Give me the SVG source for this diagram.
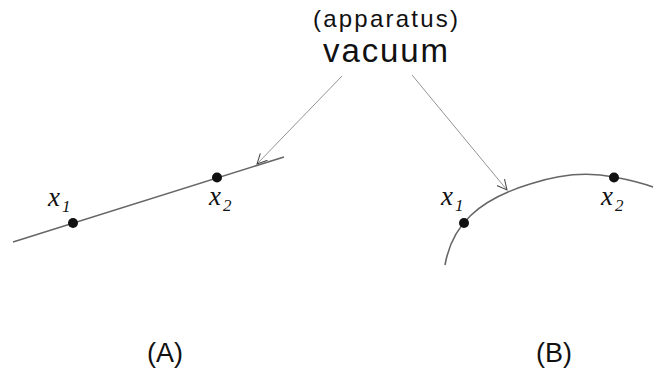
<svg xmlns="http://www.w3.org/2000/svg" width="657" height="371" viewBox="0 0 657 371">
<style>
.lbl{font-family:"Liberation Sans",Arial,sans-serif;fill:#111}
.var{font-family:"Liberation Serif","Times New Roman",serif;font-style:italic;fill:#111}
.curve{fill:none;stroke:#666;stroke-width:1.6}
.ptr{fill:none;stroke:#777;stroke-width:0.8}
.dot{fill:#111}
</style>
<defs>
<marker id="ah" markerWidth="12" markerHeight="12" refX="10" refY="5" orient="auto" markerUnits="userSpaceOnUse" viewBox="0 0 12 10">
<path d="M0,0 L10,5 L0,10" fill="none" stroke="#444" stroke-width="1"/>
</marker>
</defs>
<rect width="657" height="371" fill="#fff"/>
<g id="title">
<text class="lbl" x="313" y="27" font-size="24" textLength="145" lengthAdjust="spacing">(apparatus)</text>
<text class="lbl" x="323" y="62" font-size="33" textLength="125" lengthAdjust="spacing">vacuum</text>
</g>
<g id="panelA">
<path class="curve" d="M13,242 L284,157"/>
<circle class="dot" cx="73" cy="223" r="5"/>
<circle class="dot" cx="217" cy="177.5" r="5"/>
<text class="var" x="48" y="206" font-size="27">x<tspan font-size="17" dx="2" dy="6">1</tspan></text>
<text class="var" x="209" y="205" font-size="27">x<tspan font-size="17" dx="2" dy="6">2</tspan></text>
<text class="lbl" x="165" y="362" font-size="27" text-anchor="middle">(A)</text>
</g>
<g id="panelB">
<path class="curve" d="M445,265 C452,225 478,200 530,184 C560,174 590,172 614,177 C630,180 642,183 653,187"/>
<circle class="dot" cx="464" cy="223" r="5"/>
<circle class="dot" cx="614" cy="177.5" r="5"/>
<text class="var" x="441" y="205" font-size="27">x<tspan font-size="17" dx="2" dy="6">1</tspan></text>
<text class="var" x="601" y="205" font-size="27">x<tspan font-size="17" dx="2" dy="6">2</tspan></text>
<text class="lbl" x="554" y="362" font-size="27" text-anchor="middle">(B)</text>
</g>
<g id="connectors">
<path class="ptr" d="M342,76 L257,164" marker-end="url(#ah)"/>
<path class="ptr" d="M412,75 L507,190" marker-end="url(#ah)"/>
</g>
</svg>
